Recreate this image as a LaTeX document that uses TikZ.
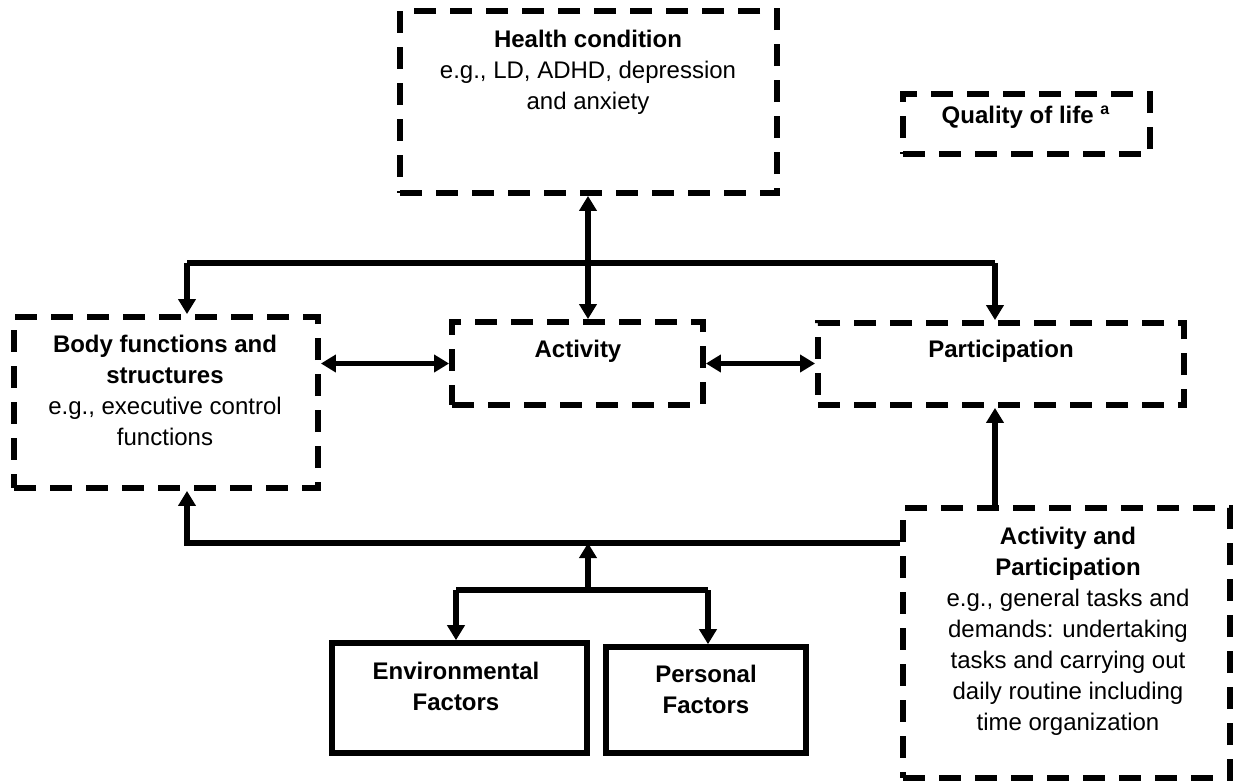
\documentclass[tikz,border=0pt]{standalone}
\usepackage{fontspec}
\setmainfont{Liberation Sans}
\usetikzlibrary{arrows.meta}
\begin{document}
\begin{tikzpicture}[x=0.5pt,y=-0.5pt,
 dbox/.style={draw, line width=2.9pt, dash pattern=on 11pt off 7pt, rectangle, inner sep=0pt},
 sbox/.style={draw, line width=2.8pt, rectangle, inner sep=0pt},
 lbl/.style={align=center, font=\fontsize{12}{15.5}\selectfont, inner sep=0pt},
 conn/.style={line width=2.6pt, -{Triangle[length=7.5pt,width=8.5pt]}},
 dconn/.style={line width=2.6pt, {Triangle[length=7.5pt,width=8.5pt]}-{Triangle[length=7.5pt,width=8.5pt]}},
 plain/.style={line width=2.6pt}]
\useasboundingbox (0,0) rectangle (1239,782);
% boxes
\node[dbox, minimum width=188.5pt, minimum height=91pt] (health) at (588.5,102) {};
\node[dbox, minimum width=123.5pt, minimum height=30pt] (qol) at (1026.5,124) {};
\node[dbox, minimum width=152pt, minimum height=85.5pt] (body) at (166,402.5) {};
\node[dbox, minimum width=125.5pt, minimum height=41.5pt] (activity) at (577.5,363.5) {};
\node[dbox, minimum width=183pt, minimum height=41pt] (part) at (1001,364) {};
\node[dbox, minimum width=163.5pt, minimum height=135pt] (ap) at (1066.5,643) {};
\node[sbox, minimum width=127.5pt, minimum height=55pt] (env) at (459.5,698) {};
\node[sbox, minimum width=100pt, minimum height=53pt] (pers) at (706,700) {};
% texts
\node[lbl, anchor=north] (thealth) at (588,30) {\textbf{Health condition}\\e.g., LD, ADHD, depression\\and anxiety};
\node[lbl, anchor=base] (tqol) at (1026,123) {\textbf{Quality of life \textsuperscript{a}}};
\node[lbl, anchor=north] (tbody) at (165,335) {\textbf{Body functions and}\\\textbf{structures}\\e.g., executive control\\functions};
\node[lbl, anchor=base] (tact) at (578,357) {\textbf{Activity}};
\node[lbl, anchor=base] (tpart) at (1001,357) {\textbf{Participation}};
\node[lbl, anchor=north] (tap) at (1068,527) {\textbf{Activity and}\\\textbf{Participation}\\e.g., general tasks and\\demands: undertaking\\tasks and carrying out\\daily routine including\\time organization};
\node[lbl, anchor=north] (tenv) at (456,662) {\textbf{Environmental}\\\textbf{Factors}};
\node[lbl, anchor=north] (tpers) at (706,665) {\textbf{Personal}\\\textbf{Factors}};
% coordinates
\coordinate (tl) at (187,263);
\coordinate (tr) at (995,263);
\coordinate (hx) at (588,263);
\coordinate (bl) at (187,543);
\coordinate (fm) at (588,590);
\coordinate (fl) at (456,590);
\coordinate (fr) at (708,590);
% connectors
\draw[dconn] (hx |- health.south) -- (hx |- activity.north);
\draw[plain] (tl) -- (tr);
\draw[conn] (tl) -- (tl |- body.north);
\draw[conn] (tr) -- (tr |- part.north);
\draw[dconn] (activity.west -| body.east) -- (activity.west);
\draw[dconn] (activity.east) -- (activity.east -| part.west);
\draw[conn] (tr |- ap.north) -- (tr |- part.south);
\draw[conn] (bl -| ap.west) -- (bl) -- (bl |- body.south);
\draw[conn] (fm) -- (fm |- bl);
\draw[plain] (fl) -- (fr);
\draw[conn] (fl) -- (fl |- env.north);
\draw[conn] (fr) -- (fr |- pers.north);
\end{tikzpicture}
\end{document}
